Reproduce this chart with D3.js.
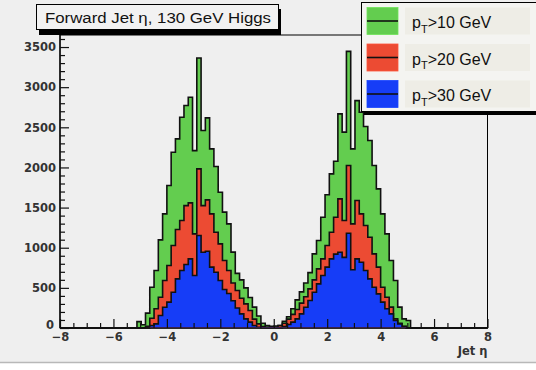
<!DOCTYPE html>
<html>
<head>
<meta charset="utf-8">
<script src="https://cdn.jsdelivr.net/npm/d3@7/dist/d3.min.js"></script>
<style>
  html, body { margin: 0; padding: 0; background: #ffffff; }
  svg { display: block; }
</style>
</head>
<body>
<svg id="chart" width="536" height="370"></svg>
<script>
// ---- data: 100 bins from eta -8 to 8 (width 0.16) ----
const etaMin = -8, etaMax = 8, nBins = 100;
const pt10 = [0,0,0,0,0,0,0,0,0,0,0,0,0,0,0,0,0,0,
  80,40,185,508,716,1098,1422,1775,2190,2356,2626,2771,2875,2210,3364,2460,2618,2231,2012,1692,1443,1297,945,680,600,500,380,260,150,60,31,20,
  25,30,85,140,240,350,450,560,690,924,1090,1380,1660,1920,2078,2667,2440,3446,2231,2833,2688,2510,2335,2024,1733,1422,1173,841,592,260,114,93,
  0,0,0,0,0,0,0,0,0,0,0,0,0,0,0,0,0,0];
const pt20 = [0,0,0,0,0,0,0,0,0,0,0,0,0,0,0,0,0,0,0,0,
  20,122,239,384,592,778,1027,1227,1339,1525,1559,1173,1982,1525,1596,1422,1193,1048,841,716,560,467,370,301,218,110,52,19,10,10,
  10,31,60,110,170,230,310,390,488,600,737,861,1027,1193,1380,1609,1339,2024,1297,1588,1422,1276,1131,924,758,508,384,260,114,60,20,
  0,0,0,0,0,0,0,0,0,0,0,0,0,0,0,0,0,0,0];
const pt30 = [0,0,0,0,0,0,0,0,0,0,0,0,0,0,0,0,0,0,0,0,0,
  31,52,156,259,322,446,612,716,791,861,654,1152,944,957,758,695,592,480,430,340,250,176,114,73,31,10,5,5,5,
  5,5,19,44,73,114,176,259,342,446,550,654,758,861,920,944,880,1181,725,861,820,716,612,508,425,322,239,176,93,52,19,
  0,0,0,0,0,0,0,0,0,0,0,0,0,0,0,0,0,0,0];
const seriesNames = ["10", "20", "30"];
const seriesColors = ["#63cd4f", "#ec4b33", "#163df7"];
const yMajorTicks = [0, 500, 1000, 1500, 2000, 2500, 3000, 3500];
const xMajorTicks = [-8, -6, -4, -2, 0, 2, 4, 6, 8];
const titleText = "Forward Jet \u03b7, 130 GeV Higgs";
const xTitle = "Jet \u03b7";

// ---- layout ----
const svg = d3.select("#chart");
const W = 536, H = 370;
const fL = 60, fR = 487.5, fT = 35, fB = 328;

svg.append("rect").attr("x", 0).attr("y", 0).attr("width", W).attr("height", 362).attr("fill", "#efefef");
svg.append("line").attr("x1", 0).attr("x2", W).attr("y1", 362.5).attr("y2", 362.5).attr("stroke", "#b8b8b8").attr("stroke-width", 1.5);

const x = d3.scaleLinear().domain([etaMin, etaMax]).range([fL, fR]);
const y = d3.scaleLinear().domain([0, 3650]).range([fB, fT]);
const binW = (etaMax - etaMin) / nBins;

function histPoints(vals) {
  const pts = [[x(etaMin), y(0)]];
  vals.forEach((v, i) => {
    const e0 = etaMin + i * binW, e1 = etaMin + (i + 1) * binW;
    pts.push([x(e0), y(v)]);
    pts.push([x(e1), y(v)]);
  });
  pts.push([x(etaMax), y(0)]);
  return pts;
}
const line = d3.line();
const allSeries = [pt10, pt20, pt30];

// frame
svg.append("rect").attr("x", fL).attr("y", fT).attr("width", fR - fL).attr("height", fB - fT)
  .attr("fill", "none").attr("stroke", "#000").attr("stroke-width", 1);

allSeries.forEach((vals, k) => {
  svg.append("path").attr("d", line(histPoints(vals)) + "Z")
    .attr("fill", seriesColors[k]).attr("stroke", "none");
  svg.append("path").attr("d", line(histPoints(vals)))
    .attr("fill", "none").attr("stroke", "#111").attr("stroke-width", 1.6)
    .attr("stroke-linejoin", "miter");
});

// magenta baseline under the blue histogram
const bFirst = pt30.findIndex(v => v > 0), bLast = nBins - 1 - [...pt30].reverse().findIndex(v => v > 0);
svg.append("line").attr("x1", x(etaMin + bFirst * binW)).attr("x2", x(etaMin + (bLast + 1) * binW))
  .attr("y1", fB - 0.5).attr("y2", fB - 0.5).attr("stroke", "#b14cff").attr("stroke-width", 1.2);

// axes
const tickFont = "DejaVu Sans, Liberation Sans, sans-serif";
const yAxis = d3.axisLeft(y).tickValues(yMajorTicks).tickFormat(d3.format("d")).tickSizeInner(-9).tickSizeOuter(0).tickPadding(4);
const gy = svg.append("g").attr("transform", `translate(${fL},0)`).call(yAxis);
const yMinor = d3.axisLeft(y).tickValues(d3.range(0, 3601, 100).filter(v => v % 500 !== 0)).tickSize(-5).tickFormat("");
const gym = svg.append("g").attr("transform", `translate(${fL},0)`).call(yMinor);

const xAxis = d3.axisBottom(x).tickValues(xMajorTicks).tickFormat(d3.format("d")).tickSizeInner(-9).tickSizeOuter(0).tickPadding(4);
const gx = svg.append("g").attr("transform", `translate(0,${fB})`).call(xAxis);
const xMinor = d3.axisBottom(x).tickValues(d3.range(-7.5, 8, 0.5).filter(v => v % 2 !== 0)).tickSize(-5).tickFormat("");
const gxm = svg.append("g").attr("transform", `translate(0,${fB})`).call(xMinor);

[gy, gym, gx, gxm].forEach(g => {
  g.select(".domain").remove();
  g.selectAll(".tick line").attr("stroke", "#111").attr("stroke-width", 1.2);
  g.selectAll("text").attr("font-family", tickFont).attr("font-weight", "bold")
    .attr("font-size", 11.5).attr("fill", "#333");
});
gx.selectAll("text").attr("dy", "0.8em");
// ROOT puts the y "0" a little higher than the baseline
gy.selectAll(".tick").filter(d => d === 0).select("text").attr("dy", "0.05em").attr("x", -6);

svg.append("line").attr("x1", fL).attr("x2", fL).attr("y1", fT).attr("y2", fB).attr("stroke", "#111").attr("stroke-width", 1.5);
svg.append("line").attr("x1", fL).attr("x2", fR).attr("y1", fB).attr("y2", fB).attr("stroke", "#111").attr("stroke-width", 1.5);

svg.append("text").attr("x", fR).attr("y", 355).attr("text-anchor", "end")
  .attr("font-family", tickFont).attr("font-weight", "bold").attr("font-size", 11.5).attr("fill", "#333")
  .text(xTitle);

// title box
svg.append("rect").attr("x", 39).attr("y", 9).attr("width", 242).attr("height", 26).attr("fill", "#000");
svg.append("rect").attr("x", 36.5).attr("y", 4.5).attr("width", 242).attr("height", 25).attr("fill", "#f2f2f2")
  .attr("stroke", "#000").attr("stroke-width", 1);
svg.append("text").attr("x", 45).attr("y", 23).attr("font-family", "Liberation Sans, Arial, sans-serif")
  .attr("font-size", 15.5).attr("fill", "#111")
  .attr("textLength", 226).attr("lengthAdjust", "spacingAndGlyphs").text(titleText);

// legend
const lg = svg.append("g");
lg.append("rect").attr("x", 364).attr("y", 6).attr("width", 180).attr("height", 109).attr("fill", "#000");
lg.append("rect").attr("x", 361.5).attr("y", 2.5).attr("width", 180).attr("height", 109).attr("fill", "#f4f4f1")
  .attr("stroke", "#000").attr("stroke-width", 1);
seriesNames.forEach((name, k) => {
  const y0 = 7.5 + k * 36.5;
  lg.append("rect").attr("x", 405).attr("y", y0).attr("width", 125).attr("height", 27).attr("fill", "#eeede6");
  lg.append("rect").attr("x", 367).attr("y", y0).attr("width", 31).attr("height", 27)
    .attr("fill", seriesColors[k]).attr("stroke", d3.color(seriesColors[k]).brighter(0.3)).attr("stroke-width", 0.8);
  lg.append("line").attr("x1", 367).attr("x2", 398).attr("y1", y0 + 13.5).attr("y2", y0 + 13.5)
    .attr("stroke", "#111").attr("stroke-width", 1.6);
  const t = lg.append("text").attr("x", 412).attr("y", y0 + 20.5)
    .attr("font-family", "Liberation Sans, Arial, sans-serif").attr("font-size", 16).attr("fill", "#111");
  t.append("tspan").text("p");
  t.append("tspan").attr("font-size", 11).attr("dy", 4.5).text("T");
  t.append("tspan").attr("dy", -4.5).text(">" + name + " GeV");
});
</script>
</body>
</html>
